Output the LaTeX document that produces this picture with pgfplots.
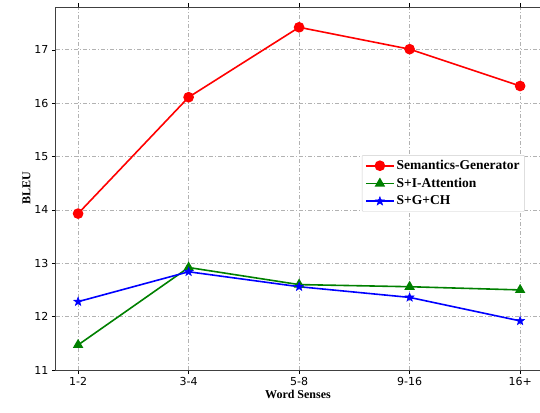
\documentclass[border=0pt]{standalone}
\usepackage{pgfplots}
\pgfplotsset{compat=1.18}
\usepackage{fontspec}
\setmainfont{Liberation Serif}
\newfontfamily\tickfont{DejaVu Sans}
\pgfdeclareplotmark{fstar}{%
  \pgfpathmoveto{\pgfqpointpolar{90}{1.1\pgfplotmarksize}}%
  \pgfpathlineto{\pgfqpointpolar{126}{0.45\pgfplotmarksize}}%
  \pgfpathlineto{\pgfqpointpolar{162}{1.1\pgfplotmarksize}}%
  \pgfpathlineto{\pgfqpointpolar{198}{0.45\pgfplotmarksize}}%
  \pgfpathlineto{\pgfqpointpolar{234}{1.1\pgfplotmarksize}}%
  \pgfpathlineto{\pgfqpointpolar{270}{0.45\pgfplotmarksize}}%
  \pgfpathlineto{\pgfqpointpolar{306}{1.1\pgfplotmarksize}}%
  \pgfpathlineto{\pgfqpointpolar{342}{0.45\pgfplotmarksize}}%
  \pgfpathlineto{\pgfqpointpolar{18}{1.1\pgfplotmarksize}}%
  \pgfpathlineto{\pgfqpointpolar{54}{0.45\pgfplotmarksize}}%
  \pgfpathclose\pgfusepathqfillstroke}
\begin{document}
\begin{tikzpicture}
\useasboundingbox (-56pt,-42pt) rectangle (484pt,370pt);
\begin{axis}[
  at={(0pt,0pt)}, anchor=south west,
  scale only axis, width=484pt, height=363pt,
  xmin=-0.2, xmax=4.18, ymin=11, ymax=17.8,
  xtick={0,1,2,3,4}, xticklabels={1-2,3-4,5-8,9-16,16+},
  ytick={11,12,13,14,15,16,17},
  ticklabel style={font=\tickfont\fontsize{11}{12}\selectfont},
  /pgf/number format/assume math mode=true,
  tick align=outside, tick style={black, thin}, major tick length=4pt,
  grid=major, grid style={gray!60, dash pattern=on 4pt off 2pt on 1pt off 2pt, line width=0.6pt},
  axis line style={black!75, line width=1pt},
  xlabel={\bfseries Word Senses}, ylabel={\bfseries BLEU},
  label style={font=\fontsize{12}{14}\selectfont},
  xlabel style={yshift=3pt},
  ylabel style={yshift=-3pt},
  legend cell align=left,
  legend style={at={(0.632,0.592)}, anchor=north west, font=\bfseries\fontsize{13.5}{15}\selectfont, draw=gray!40, rounded corners=1pt, inner sep=3pt, row sep=3pt},
  legend image code/.code={\draw[mark repeat=2, mark phase=2, #1] plot coordinates {(0pt,0pt) (14pt,0pt) (28pt,0pt)};},
]
\addplot[red, line width=1.6pt, mark=*, mark size=4.5pt] coordinates {(0,13.93) (1,16.11) (2,17.42) (3,17.01) (4,16.32)};
\addlegendentry{Semantics-Generator}
\addplot[green!50!black, line width=1.6pt, mark=triangle*, mark size=4.5pt] coordinates {(0,11.47) (1,12.92) (2,12.60) (3,12.56) (4,12.50)};
\addlegendentry{S+I-Attention}
\addplot[blue, line width=1.6pt, mark=fstar, mark options={line width=0.5pt}, mark size=4.2pt] coordinates {(0,12.28) (1,12.84) (2,12.56) (3,12.36) (4,11.92)};
\addlegendentry{S+G+CH}
\end{axis}
\end{tikzpicture}
\end{document}
